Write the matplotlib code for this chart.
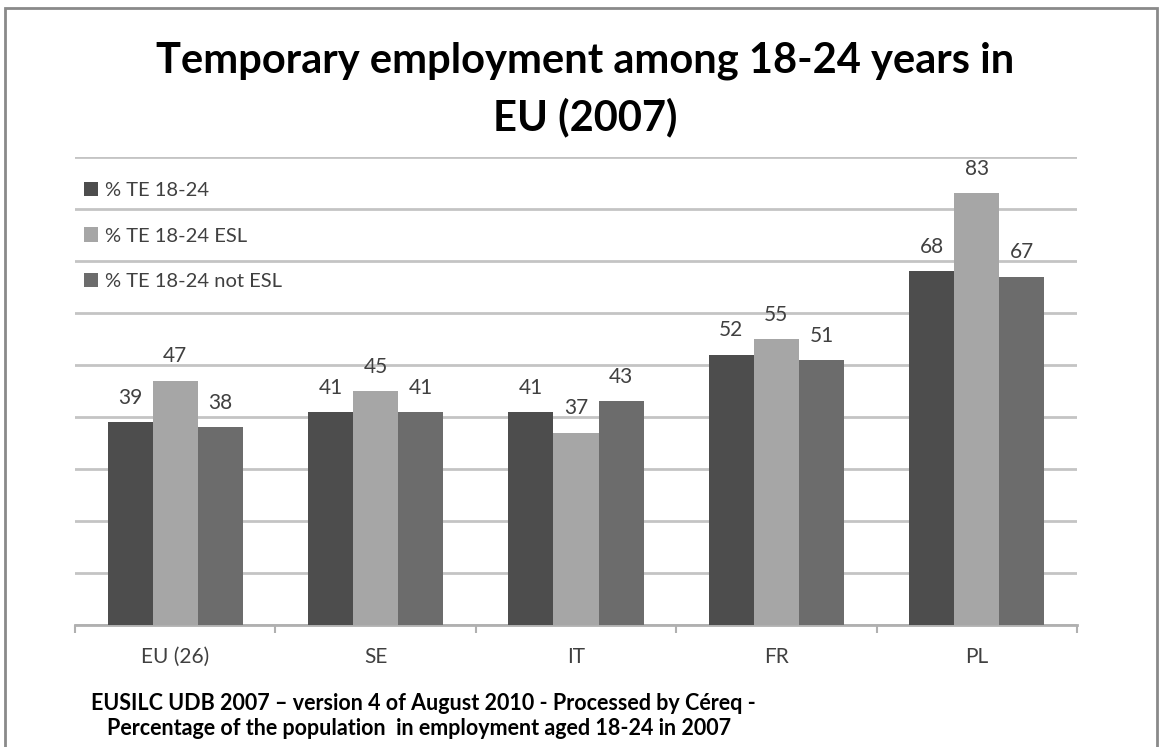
import matplotlib.pyplot as plt
import matplotlib.patches as patches
import numpy as np

countries = ["EU (26)", "SE", "IT", "FR", "PL"]
series_names = ["% TE 18-24", "% TE 18-24 ESL", "% TE 18-24 not ESL"]
te_all = [39, 41, 41, 52, 68]
te_esl = [47, 45, 37, 55, 83]
te_not_esl = [38, 41, 43, 51, 67]

colors = ["#4d4d4d", "#a6a6a6", "#6c6c6c"]
FONT = "Lato"
W, H = 1160, 747

fig = plt.figure(figsize=(11.6, 7.47), dpi=100)
ax = fig.add_axes([75 / W, 1 - 625 / H, 1002 / W, 468 / H])

x = np.arange(len(countries))
width = 0.225
for i, (vals, name, c) in enumerate(zip([te_all, te_esl, te_not_esl], series_names, colors)):
    pos = x + (i - 1) * width
    ax.bar(pos, vals, width, color=c, label=name, zorder=3)
    for p, v in zip(pos, vals):
        ax.text(p, v + 3.5, str(v), ha="center", va="baseline",
                fontsize=15, color="#404040", family=FONT)

ax.set_xlim(-0.5, len(countries) - 0.5)
ax.set_ylim(0, 90)
ax.set_yticks(np.arange(0, 91, 10))
ax.yaxis.grid(True, color="#c4c4c4", linewidth=2, zorder=0)
ax.tick_params(axis="y", left=False, labelleft=False)

# category labels centred, tick marks on the group boundaries
ax.set_xticks(x)
ax.set_xticklabels(countries, fontsize=15, color="#404040", family=FONT)
ax.tick_params(axis="x", length=0, pad=16)
ax.set_xticks(np.arange(-0.5, len(countries)), minor=True)
ax.tick_params(axis="x", which="minor", length=6, width=1.5, color="#b0b0b0")

for s in ["top", "right", "left"]:
    ax.spines[s].set_visible(False)
ax.spines["bottom"].set_color("#b0b0b0")
ax.spines["bottom"].set_linewidth(2)

leg = ax.legend(loc="upper left", bbox_to_anchor=(0.009, 0.947), frameon=False,
                borderaxespad=0, borderpad=0,
                handlelength=0.7, handleheight=0.7, handletextpad=0.35,
                labelspacing=1.42, prop={"family": FONT, "size": 14.5})
for t in leg.get_texts():
    t.set_color("#404040")

fig.text(585 / W, 1 - 72 / H, "Temporary employment among 18-24 years in",
         ha="center", va="baseline", fontsize=30, fontweight="bold", family=FONT)
fig.text(585 / W, 1 - 130 / H, "EU (2007)",
         ha="center", va="baseline", fontsize=30, fontweight="bold", family=FONT)

fig.text(423 / W, 1 - 710 / H,
         "EUSILC UDB 2007 \u2013 version 4 of August 2010 - Processed by C\u00e9req -",
         ha="center", va="baseline", fontsize=15.5, fontweight="bold", family=FONT)
fig.text(419 / W, 1 - 735 / H,
         "Percentage of the population  in employment aged 18-24 in 2007",
         ha="center", va="baseline", fontsize=15.5, fontweight="bold", family=FONT)

# outer chart frame
fig.patches.append(patches.Rectangle((5 / W, -0.05), 1152 / W, 1.05 - 8 / H,
                                     transform=fig.transFigure, fill=False,
                                     edgecolor="#8a8a8a", linewidth=2))

fig.savefig("out.png", dpi=100)
